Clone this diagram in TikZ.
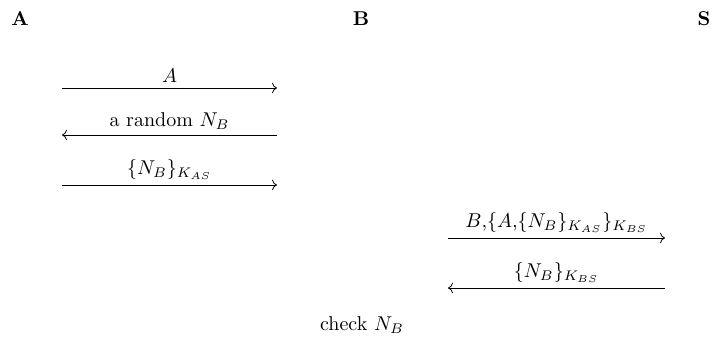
\documentclass[tikz,border=0pt]{standalone}
\usepackage{amsmath, amssymb}
\usepackage{tikz}
\usetikzlibrary{arrows.meta, positioning}
\tikzset{
  party/.style    = {font=\bfseries, inner sep=0pt},
  msgarrow/.style = {draw, line width=0.4pt, ->},
  msglabel/.style = {above, inner sep=2.5pt},
  note/.style     = {inner sep=0pt},
}

\begin{document}
\begin{tikzpicture}[x=0.5pt, y=0.5pt]
  \useasboundingbox (0,0) rectangle (712,337);
  \node[party] (A) at (20,318) {A};
  \node[party] (B) at (361,318) {B};
  \node[party] (S) at (704,318) {S};
  % A <-> B
  \coordinate (a1) at (62,249);  \coordinate (b1) at (277,249);
  \coordinate (a2) at (62,202);  \coordinate (b2) at (277,202);
  \coordinate (a3) at (62,152);  \coordinate (b3) at (277,152);
  % B <-> S
  \coordinate (b4) at (448,99);  \coordinate (s4) at (665,99);
  \coordinate (b5) at (448,49);  \coordinate (s5) at (665,49);
  \draw[msgarrow] (a1) -- node[msglabel] {$A$} (b1);
  \draw[msgarrow] (b2) -- node[msglabel] {a random $N_B$} (a2);
  \draw[msgarrow] (a3) -- node[msglabel] {$\{N_B\}_{K_{AS}}$} (b3);
  \draw[msgarrow] (b4) -- node[msglabel] {$B$,$\{A$,$\{N_B\}_{K_{AS}}\}_{K_{BS}}$} (s4);
  \draw[msgarrow] (s5) -- node[msglabel] {$\{N_B\}_{K_{BS}}$} (b5);
  \node[note] (chk) at (362,12) {check $N_B$};
\end{tikzpicture}
\end{document}
